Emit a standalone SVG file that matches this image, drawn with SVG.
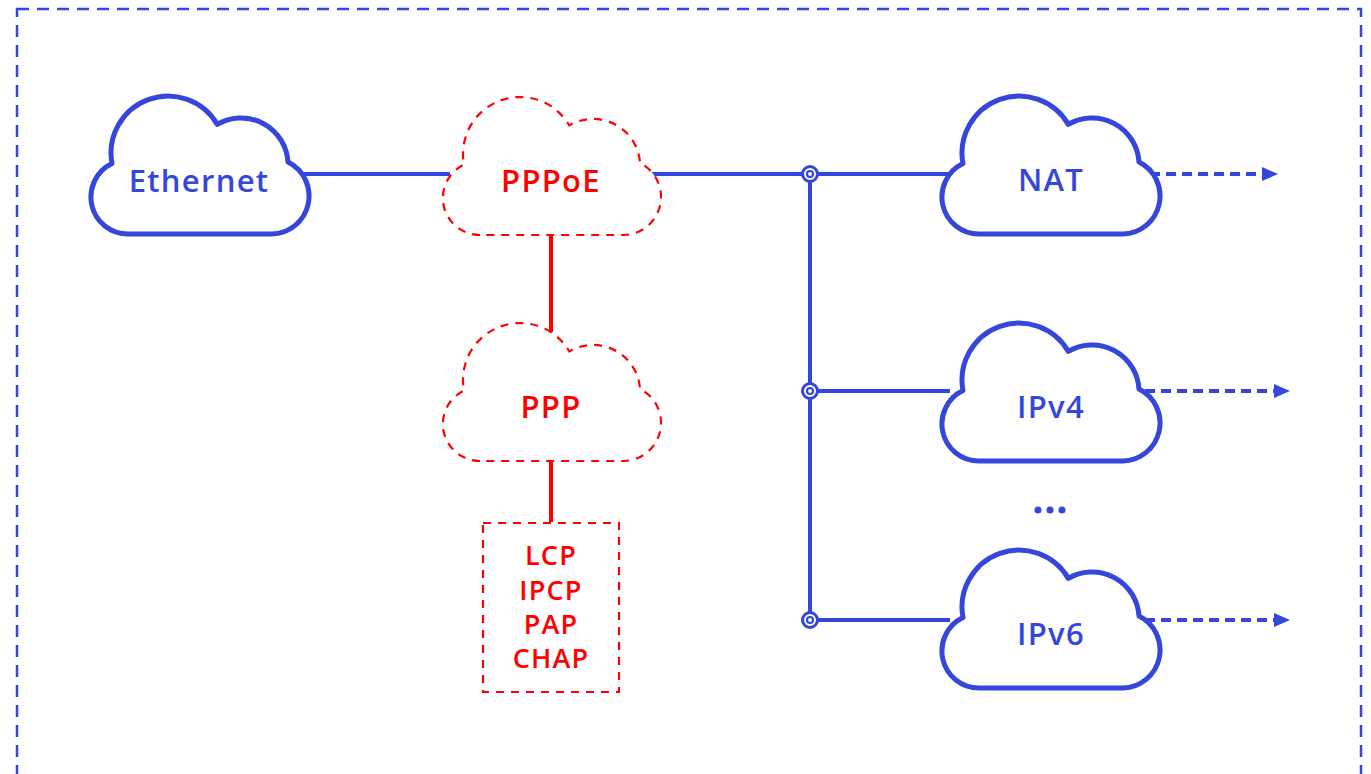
<svg xmlns="http://www.w3.org/2000/svg" width="1371" height="774" viewBox="0 0 1371 774">
  <style>
    .blue { fill: #ffffff; stroke: #3446dc; stroke-width: 5; stroke-linejoin: round; }
    .red { fill: #ffffff; stroke: #ff0000; stroke-width: 2.2; stroke-dasharray: 8 7; }
    .lbl { font-family: "Open Sans", "Liberation Sans", sans-serif; font-weight: 600; font-size: 31px; letter-spacing: 1.3px; text-anchor: middle; }
    .lb { fill: #3446dc; }
    .lr { fill: #ff0000; }
    .box { font-family: "Open Sans", "Liberation Sans", sans-serif; font-weight: 600; font-size: 27px; letter-spacing: 1.2px; text-anchor: middle; fill: #ff0000; }
    .conn { stroke: #3446dc; stroke-width: 4; fill: none; }
    .rconn { stroke: #ff0000; stroke-width: 4; fill: none; }
    .darr { stroke: #3446dc; stroke-width: 4; fill: none; stroke-dasharray: 10 6; }
  </style>
  <defs>
    <path id="cloud" d="M 40,138 A 37,37 0 0 1 24,67.6 A 57,57 0 0 1 129.3,28.4 A 47,47 0 0 1 200,66 A 38,38 0 0 1 184,138 Z"/>
    <marker id="ah" markerUnits="userSpaceOnUse" markerWidth="16" markerHeight="14" refX="0" refY="7" orient="auto">
      <path d="M0,0 L16,7 L0,14 Z" fill="#3446dc"/>
    </marker>
  </defs>
  <rect x="17" y="9" width="1344" height="800" fill="none" stroke="#3446dc" stroke-width="2.5" stroke-dasharray="12 8"/>
  <g id="connectors">
    <line class="conn" x1="300" y1="174" x2="450" y2="174"/>
    <line class="conn" x1="650" y1="174" x2="950" y2="174"/>
    <line class="conn" x1="810" y1="174" x2="810" y2="620"/>
    <line class="conn" x1="810" y1="391" x2="950" y2="391"/>
    <line class="conn" x1="810" y1="620" x2="950" y2="620"/>
    <line class="rconn" x1="551" y1="234" x2="551" y2="332"/>
    <line class="rconn" x1="551" y1="460" x2="551" y2="522"/>
    <line class="darr" x1="1150" y1="174" x2="1262" y2="174" marker-end="url(#ah)"/>
    <line class="darr" x1="1145" y1="391" x2="1274" y2="391" marker-end="url(#ah)"/>
    <line class="darr" x1="1145" y1="620" x2="1274" y2="620" marker-end="url(#ah)"/>
    <g fill="#ffffff" stroke="#3446dc">
      <circle cx="810" cy="174" r="7.5" stroke-width="3"/>
      <circle cx="810" cy="174" r="3" stroke-width="2.2"/>
      <circle cx="810" cy="391" r="7.5" stroke-width="3"/>
      <circle cx="810" cy="391" r="3" stroke-width="2.2"/>
      <circle cx="810" cy="620" r="7.5" stroke-width="3"/>
      <circle cx="810" cy="620" r="3" stroke-width="2.2"/>
    </g>
  </g>
  <g id="ethernet">
    <use href="#cloud" class="blue" transform="translate(88,96)"/>
    <text class="lbl lb" x="199" y="192">Ethernet</text>
  </g>
  <g id="pppoe">
    <use href="#cloud" class="red" transform="translate(440,97)"/>
    <text class="lbl lr" x="551" y="192">PPPoE</text>
  </g>
  <g id="ppp">
    <use href="#cloud" class="red" transform="translate(440,323)"/>
    <text class="lbl lr" x="551" y="418">PPP</text>
  </g>
  <g id="protocols">
    <rect x="483" y="523" width="136" height="169" fill="#ffffff" stroke="#ff0000" stroke-width="2.2" stroke-dasharray="8 7"/>
    <text class="box" x="551" y="565">LCP</text>
    <text class="box" x="551" y="600">IPCP</text>
    <text class="box" x="551" y="634">PAP</text>
    <text class="box" x="551" y="668">CHAP</text>
  </g>
  <g id="nat">
    <use href="#cloud" class="blue" transform="translate(939,96)"/>
    <text class="lbl lb" x="1051" y="191">NAT</text>
  </g>
  <g id="ipv4">
    <use href="#cloud" class="blue" transform="translate(939,323)"/>
    <text class="lbl lb" x="1051" y="418">IPv4</text>
  </g>
  <g id="dots" fill="#3446dc">
    <circle cx="1038" cy="510" r="3.5"/>
    <circle cx="1050" cy="510" r="3.5"/>
    <circle cx="1062" cy="510" r="3.5"/>
  </g>
  <g id="ipv6">
    <use href="#cloud" class="blue" transform="translate(939,550)"/>
    <text class="lbl lb" x="1051" y="645">IPv6</text>
  </g>
</svg>
